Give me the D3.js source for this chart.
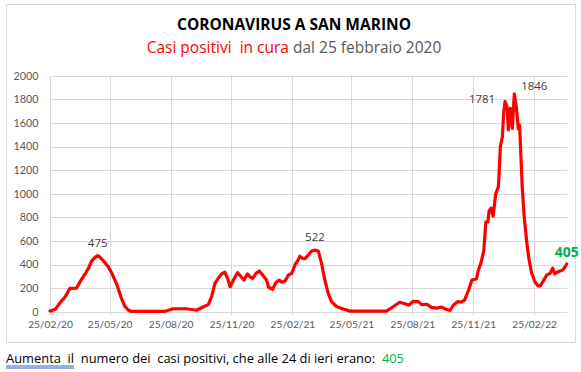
<!DOCTYPE html>
<html><head><meta charset="utf-8">
<script src="https://cdn.jsdelivr.net/npm/d3@7"></script>
<style>
body{margin:0;background:#fff}
svg{display:block}
text{font-family:'Open Sans',sans-serif;white-space:pre}
</style>
</head><body>
<svg id="c" width="581" height="372"></svg>
<script>
// ---- data ----
const dates = [
"2020-02-25","2020-03-04","2020-03-11","2020-03-19","2020-03-26","2020-04-05","2020-04-10","2020-04-18","2020-04-23","2020-04-28",
"2020-05-03","2020-05-07","2020-05-10","2020-05-15","2020-05-23","2020-05-28","2020-06-05","2020-06-12","2020-06-17","2020-06-22",
"2020-06-27","2020-08-17","2020-08-29","2020-09-18","2020-10-03","2020-10-13","2020-10-21","2020-10-26","2020-10-31","2020-11-05",
"2020-11-10","2020-11-15","2020-11-19","2020-11-23","2020-11-28","2020-12-04","2020-12-09","2020-12-14","2020-12-19","2020-12-23",
"2020-12-27","2021-01-01","2021-01-06","2021-01-11","2021-01-17","2021-01-20","2021-01-26","2021-01-31","2021-02-05","2021-02-09",
"2021-02-14","2021-02-19","2021-02-24","2021-03-01","2021-03-06","2021-03-08","2021-03-12","2021-03-16","2021-03-21","2021-03-26",
"2021-03-31","2021-04-05","2021-04-10","2021-04-15","2021-04-20","2021-04-25","2021-05-03","2021-05-13","2021-05-23","2021-07-17",
"2021-07-27","2021-08-06","2021-08-14","2021-08-20","2021-08-26","2021-09-03","2021-09-08","2021-09-16","2021-09-23","2021-10-01",
"2021-10-08","2021-10-16","2021-10-21","2021-10-26","2021-11-02","2021-11-07","2021-11-12","2021-11-18","2021-11-23","2021-11-30",
"2021-12-02","2021-12-07","2021-12-11","2021-12-14","2021-12-17","2021-12-19","2021-12-22","2021-12-25","2021-12-29","2022-01-02",
"2022-01-05","2022-01-08","2022-01-10","2022-01-12","2022-01-15","2022-01-17","2022-01-20","2022-01-23","2022-01-26","2022-01-29",
"2022-02-01","2022-02-03","2022-02-07","2022-02-10","2022-02-14","2022-02-17","2022-02-21","2022-02-26","2022-03-03","2022-03-06",
"2022-03-11","2022-03-16","2022-03-21","2022-03-25","2022-03-28","2022-04-02","2022-04-09","2022-04-12","2022-04-15"
];
const positivi = [
5,20,75,127,198,200,250,320,368,430,
460,475,465,435,380,330,230,110,45,15,
2,3,25,25,12,40,60,127,240,283,
320,335,283,212,268,331,300,268,320,295,
283,325,345,311,268,207,190,246,268,250,
260,311,325,400,440,470,452,450,480,515,
522,515,410,268,156,85,42,23,5,5,
42,80,68,55,88,85,60,63,37,30,
40,18,10,57,85,80,100,184,268,280,
339,420,520,760,760,855,878,810,1000,1060,
1400,1483,1690,1781,1740,1540,1723,1554,1846,1737,
1550,1580,1050,800,580,450,330,254,218,218,
263,311,325,368,320,339,353,375,405
];
const yTicks = [0,200,400,600,800,1000,1200,1400,1600,1800,2000];
const xTicks = ["2020-02-25","2020-05-25","2020-08-25","2020-11-25","2021-02-25","2021-05-25","2021-08-25","2021-11-25","2022-02-25"];
const xDomain = ["2020-02-25","2022-04-16"];
const labelDates  = ["2020-05-07","2021-03-31","2022-01-12","2022-01-26","2022-04-15"];
const labelValues = [475,522,1781,1846,405];
const titleText = "CORONAVIRUS A SAN MARINO";
const subtitleRed = "Casi positivi  in cura";
const subtitleGray = " dal 25 febbraio 2020";
const footerUnderlined = "Aumenta  il";
const footerText = "  numero dei  casi positivi, che alle 24 di ieri erano:  ";
const footerValue = "405";

// ---- drawing ----
const parse = d3.utcParse("%Y-%m-%d");
const fmt = d3.utcFormat("%d/%m/%y");
const svg = d3.select("#c");

// outer frame
svg.append("rect").attr("x",6.5).attr("y",4.5).attr("width",569).attr("height",338)
  .attr("fill","#fff").attr("stroke","#d9d9d9").attr("stroke-width",1);

const x = d3.scaleUtc().domain(xDomain.map(parse)).range([50,567.3]);
const y = d3.scaleLinear().domain([0,2000]).range([311.7,75.7]);

// grid
const g = svg.append("g");
g.selectAll("line.h").data(yTicks).join("line")
  .attr("x1",50).attr("x2",567.3)
  .attr("y1",d=>Math.round(y(d))+0.5).attr("y2",d=>Math.round(y(d))+0.5)
  .attr("stroke","#d9d9d9").attr("stroke-width",1);
g.selectAll("line.v").data(xTicks.map(parse)).join("line")
  .attr("x1",d=>Math.round(x(d))+0.5).attr("x2",d=>Math.round(x(d))+0.5)
  .attr("y1",y(2000)).attr("y2",y(0)+4)
  .attr("stroke","#d9d9d9").attr("stroke-width",1);

// axes
const yAxis = d3.axisLeft(y).tickValues(yTicks).tickFormat(d3.format("d")).tickSize(0).tickPadding(0);
svg.append("g").attr("transform","translate(38.5,0)").call(yAxis)
  .call(s=>s.select(".domain").remove())
  .selectAll("text").attr("font-size",10.8).attr("fill","#595959").style("font-family","Lato,sans-serif");
const xAxis = d3.axisBottom(x).tickValues(xTicks.map(parse)).tickFormat(fmt).tickSize(0).tickPadding(0);
svg.append("g").attr("transform","translate(0,320.5)").call(xAxis)
  .call(s=>s.select(".domain").remove())
  .selectAll("text").attr("font-size",10.2).attr("fill","#595959").style("font-family","Lato,sans-serif");

// line
const line = d3.line().x((d,i)=>x(parse(dates[i]))).y(d=>y(d));
svg.append("path").datum(positivi).attr("d",line)
  .attr("fill","none").attr("stroke","#ff0000").attr("stroke-width",3.2)
  .attr("stroke-linejoin","round").attr("stroke-linecap","round");

// data labels
const offs = [[0,-9],[0,-9],[-23,1],[20,-4],[0,-7]];
labelDates.forEach((d,i)=>{
  const last = i===labelDates.length-1;
  svg.append("text")
    .attr("x",x(parse(d))+offs[i][0]).attr("y",y(labelValues[i])+offs[i][1])
    .attr("text-anchor","middle")
    .attr("font-size",last?14:11.5).attr("font-weight",last?"bold":"normal")
    .attr("fill",last?"#00b050":"#404040")
    .text(labelValues[i]);
});

// titles
svg.append("text").attr("x",294).attr("y",30).attr("text-anchor","middle")
  .attr("font-size",15.5).attr("font-weight","bold").attr("fill","#000").text(titleText);
const st = svg.append("text").attr("x",294).attr("y",53).attr("text-anchor","middle").attr("font-size",15.5);
st.append("tspan").attr("fill","#ff0000").text(subtitleRed);
st.append("tspan").attr("fill","#595959").text(subtitleGray);

// footer
const fs = 12.9;
const f1 = svg.append("text").attr("x",6).attr("y",363).attr("font-size",fs).attr("fill","#000").text(footerUnderlined);
const w1 = f1.node().getComputedTextLength();
svg.append("line").attr("x1",6).attr("x2",6+w1).attr("y1",366).attr("y2",366).attr("stroke","#2f5fd0").attr("stroke-width",1);
svg.append("line").attr("x1",6).attr("x2",6+w1).attr("y1",368).attr("y2",368).attr("stroke","#2f5fd0").attr("stroke-width",1);
const f2 = svg.append("text").attr("x",6+w1).attr("y",363).attr("font-size",fs).attr("fill","#000").text(footerText);
const w2 = f2.node().getComputedTextLength();
svg.append("text").attr("x",6+w1+w2).attr("y",363).attr("font-size",fs).attr("fill","#00b050").text(footerValue);
</script>
</body></html>
